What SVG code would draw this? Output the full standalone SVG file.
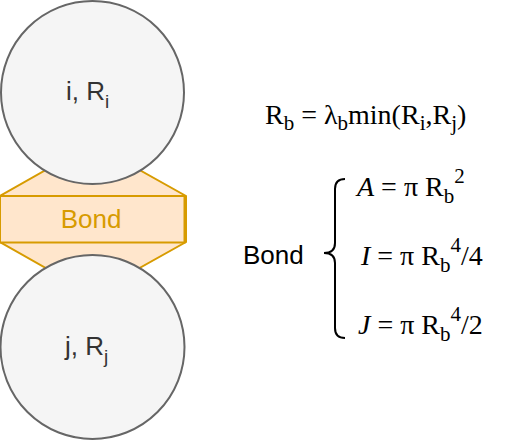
<svg xmlns="http://www.w3.org/2000/svg" width="510" height="443" viewBox="0 0 510 443">
<style>
.circ{fill:#f5f5f5;stroke:#666666;stroke-width:2}
.bond{fill:#ffe6cc;stroke:#d79b00;stroke-width:2}
.sans{font-family:"Liberation Sans",Arial,sans-serif;font-size:26px}
.serif{font-family:"Liberation Serif","Times New Roman",serif;font-size:28px;fill:#000}
</style>
<rect width="510" height="443" fill="#ffffff"/>
<g id="bond">
<polygon class="bond" points="67,158 118,158 186,196 186,242 118,280 67,280 0,242 0,196"/>
<rect class="bond" x="0" y="196" width="184.5" height="46.5"/>
<text class="sans" x="91" y="228" text-anchor="middle" fill="#d79b00">Bond</text>
</g>
<g id="node-i">
<circle class="circ" cx="92.5" cy="92.5" r="91.5"/>
<text class="sans" x="66" y="100" fill="#333333">i, R<tspan dy="8" font-size="19">i</tspan></text>
</g>
<g id="node-j">
<circle class="circ" cx="92.5" cy="347" r="92"/>
<text class="sans" x="65" y="355" fill="#333333">j, R<tspan dy="8" font-size="19">j</tspan></text>
</g>
<g id="eq-rb">
<text class="serif" x="265" y="124">R<tspan dy="6" font-size="21">b</tspan><tspan dy="-6"> = λ</tspan><tspan dy="6" font-size="21">b</tspan><tspan dy="-6">min(R</tspan><tspan dy="6" font-size="21">i</tspan><tspan dy="-6">,R</tspan><tspan dy="6" font-size="21">j</tspan><tspan dy="-6">)</tspan></text>
</g>
<g id="bond-label">
<text class="sans" x="243" y="264" fill="#000" font-size="27">Bond</text>
</g>
<g id="connectors">
<path d="M345,179 Q335,179 335,189 L335,243 Q335,253 324,253 Q335,253 335,263 L335,328 Q335,338 345,338" fill="none" stroke="#000" stroke-width="2"/>
</g>
<g id="eq-A">
<text class="serif" x="357" y="196"><tspan font-style="italic">A</tspan> = π R<tspan dy="7" font-size="21">b</tspan><tspan dy="-20" font-size="21">2</tspan></text>
</g>
<g id="eq-I">
<text class="serif" x="361" y="265"><tspan font-style="italic">I</tspan> = π R<tspan dy="7" font-size="21">b</tspan><tspan dy="-20" font-size="21">4</tspan><tspan dy="13">/4</tspan></text>
</g>
<g id="eq-J">
<text class="serif" x="358" y="334"><tspan font-style="italic">J</tspan> = π R<tspan dy="7" font-size="21">b</tspan><tspan dy="-20" font-size="21">4</tspan><tspan dy="13">/2</tspan></text>
</g>
</svg>
